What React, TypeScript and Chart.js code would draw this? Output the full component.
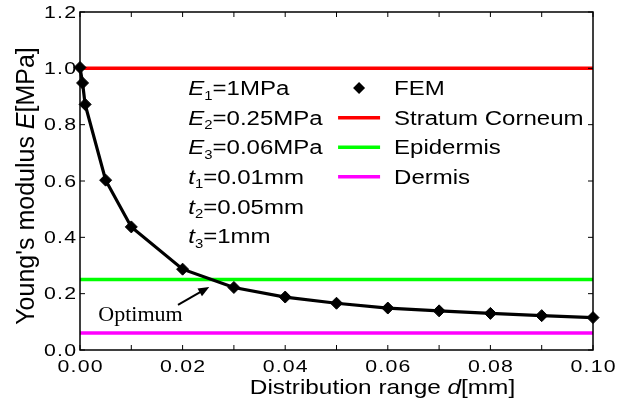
import React, { useEffect, useRef } from "react";
import { Chart, registerables } from "chart.js";
Chart.register(...registerables);

// ---- data ----
const femX = [0, 0.0005, 0.001, 0.005, 0.01, 0.02, 0.03, 0.04, 0.05, 0.06, 0.07, 0.08, 0.09, 0.1];
const femY = [1.003, 0.948, 0.872, 0.603, 0.437, 0.287, 0.222, 0.188, 0.166, 0.149, 0.139, 0.13, 0.122, 0.115];
const layerNames = ["Stratum Corneum", "Epidermis", "Dermis"];
const layerModulus = [1.0, 0.25, 0.06];
const layerColors = ["#ff0000", "#00ff00", "#ff00ff"];
const xRange = [0, 0.1];
const yRange = [0, 1.2];
const xTickValues = [0, 0.01, 0.02, 0.03, 0.04, 0.05, 0.06, 0.07, 0.08, 0.09, 0.1];
const xTickLabels = ["0.00", "", "0.02", "", "0.04", "", "0.06", "", "0.08", "", "0.10"];
const yTickValues = [0, 0.2, 0.4, 0.6, 0.8, 1.0, 1.2];
const yTickLabels = ["0.0", "0.2", "0.4", "0.6", "0.8", "1.0", "1.2"];
const paramLines = [
  [["E", "i"], ["1", "s"], ["=1MPa", ""]],
  [["E", "i"], ["2", "s"], ["=0.25MPa", ""]],
  [["E", "i"], ["3", "s"], ["=0.06MPa", ""]],
  [["t", "i"], ["1", "s"], ["=0.01mm", ""]],
  [["t", "i"], ["2", "s"], ["=0.05mm", ""]],
  [["t", "i"], ["3", "s"], ["=1mm", ""]],
];
const femLabel = "FEM";
const optimumLabel = "Optimum";

type Seg = [string, string];
const SANS = "Arial, 'Liberation Sans', sans-serif";
const SERIF = "'Times New Roman', 'Liberation Serif', serif";

function drawRich(
  ctx: CanvasRenderingContext2D,
  segs: Seg[],
  x: number,
  yc: number,
  size: number,
  family: string,
  sx: number,
  align: "left" | "center" | "right",
  spacing = 0
) {
  const fontFor = (s: Seg) =>
    `${s[1] === "i" ? "italic " : ""}${s[1] === "s" ? size * 0.62 : size}px ${family}`;
  ctx.save();
  (ctx as any).letterSpacing = `${spacing}px`;
  let w = 0;
  for (const s of segs) {
    ctx.font = fontFor(s);
    w += ctx.measureText(s[0]).width;
  }
  if (spacing) w -= spacing;
  ctx.translate(x, yc + size * 0.358);
  ctx.scale(sx, 1);
  let cx = align === "left" ? 0 : align === "center" ? -w / 2 : -w;
  ctx.textAlign = "left";
  ctx.textBaseline = "alphabetic";
  ctx.fillStyle = "#000";
  for (const s of segs) {
    ctx.font = fontFor(s);
    ctx.fillText(s[0], cx, s[1] === "s" ? size * 0.22 : 0);
    cx += ctx.measureText(s[0]).width;
  }
  ctx.restore();
}

function diamond(ctx: CanvasRenderingContext2D, x: number, y: number, r: number) {
  ctx.beginPath();
  ctx.moveTo(x, y - r);
  ctx.lineTo(x + r, y);
  ctx.lineTo(x, y + r);
  ctx.lineTo(x - r, y);
  ctx.closePath();
  ctx.fill();
}

const decor = {
  id: "decor",
  afterDraw(chart: any) {
    const ctx: CanvasRenderingContext2D = chart.ctx;
    const { left, right, top, bottom } = chart.chartArea;
    const xs = chart.scales.x;
    const ys = chart.scales.y;
    ctx.save();
    // frame
    ctx.strokeStyle = "#000";
    ctx.lineWidth = 1.5;
    ctx.strokeRect(left, top, right - left, bottom - top);
    // inward ticks
    ctx.lineWidth = 1;
    ctx.beginPath();
    xTickValues.forEach((v) => {
      const px = xs.getPixelForValue(v);
      ctx.moveTo(px, bottom);
      ctx.lineTo(px, bottom - 5);
      ctx.moveTo(px, top);
      ctx.lineTo(px, top + 5);
    });
    yTickValues.forEach((v) => {
      const py = ys.getPixelForValue(v);
      ctx.moveTo(left, py);
      ctx.lineTo(left + 5, py);
      ctx.moveTo(right, py);
      ctx.lineTo(right - 5, py);
    });
    ctx.stroke();
    // tick labels
    xTickValues.forEach((v, i) => {
      if (!xTickLabels[i]) return;
      drawRich(ctx, [[xTickLabels[i], ""]], xs.getPixelForValue(v), bottom + 16, 16, SANS, 1.33, "center", 0.9);
    });
    yTickValues.forEach((v, i) => {
      drawRich(ctx, [[yTickLabels[i], ""]], left - 4, ys.getPixelForValue(v), 16, SANS, 1.33, "right", 0.9);
    });
    // axis titles
    drawRich(
      ctx,
      [["Distribution range ", ""], ["d", "i"], ["[mm]", ""]],
      (left + right) / 2 + 46,
      bottom + 36,
      21,
      SANS,
      1.16,
      "center"
    );
    ctx.save();
    ctx.translate(25, (top + bottom) / 2 + 5);
    ctx.rotate(-Math.PI / 2);
    drawRich(ctx, [["Young's modulus ", ""], ["E", "i"], ["[MPa]", ""]], 0, 0, 25, SANS, 1, "center");
    ctx.restore();

    // parameter block
    const px0 = xs.getPixelForValue(0.0211);
    const py0 = ys.getPixelForValue(0.93);
    const step = 29.6;
    paramLines.forEach((segs, i) => {
      drawRich(ctx, segs as Seg[], px0, py0 + i * step, 20, SANS, 1.2, "left");
    });
    // legend
    const lx = xs.getPixelForValue(0.0544);
    const tx = lx + 35;
    ctx.fillStyle = "#000";
    diamond(ctx, lx, py0, 6);
    drawRich(ctx, [[femLabel, ""]], tx, py0, 20, SANS, 1.2, "left");
    layerNames.forEach((n, i) => {
      const y = py0 + (i + 1) * step;
      ctx.strokeStyle = layerColors[i];
      ctx.lineWidth = 3.5;
      ctx.beginPath();
      ctx.moveTo(lx - 21, y);
      ctx.lineTo(lx + 21, y);
      ctx.stroke();
      drawRich(ctx, [[n, ""]], tx, y, 20, SANS, 1.2, "left");
    });

    // optimum annotation
    const ax0 = xs.getPixelForValue(0.0191);
    const ay0 = ys.getPixelForValue(0.16);
    const ax1 = xs.getPixelForValue(0.0252);
    const ay1 = ys.getPixelForValue(0.224);
    const ang = Math.atan2(ay1 - ay0, ax1 - ax0);
    ctx.strokeStyle = "#000";
    ctx.lineWidth = 2;
    ctx.beginPath();
    ctx.moveTo(ax0, ay0);
    ctx.lineTo(ax1 - 6 * Math.cos(ang), ay1 - 6 * Math.sin(ang));
    ctx.stroke();
    ctx.fillStyle = "#000";
    ctx.beginPath();
    ctx.moveTo(ax1, ay1);
    ctx.lineTo(ax1 - 11 * Math.cos(ang) + 4.5 * Math.sin(ang), ay1 - 11 * Math.sin(ang) - 4.5 * Math.cos(ang));
    ctx.lineTo(ax1 - 11 * Math.cos(ang) - 4.5 * Math.sin(ang), ay1 - 11 * Math.sin(ang) + 4.5 * Math.cos(ang));
    ctx.closePath();
    ctx.fill();
    drawRich(
      ctx,
      [[optimumLabel, ""]],
      xs.getPixelForValue(0.0118),
      ys.getPixelForValue(0.131),
      22,
      SERIF,
      1,
      "center"
    );
    ctx.restore();
  },
};

export default function App() {
  const ref = useRef<HTMLCanvasElement | null>(null);
  useEffect(() => {
    if (!ref.current) return;
    const layerSets = layerNames.map((n, i) => ({
      label: n,
      data: xRange.map((x) => ({ x, y: layerModulus[i] })),
      borderColor: layerColors[i],
      borderWidth: 3.5,
      pointRadius: 0,
      fill: false,
      order: 2,
    }));
    const chart = new Chart(ref.current, {
      type: "line",
      data: {
        datasets: [
          {
            label: femLabel,
            data: femX.map((x, i) => ({ x, y: femY[i] })),
            borderColor: "#000",
            backgroundColor: "#000",
            borderWidth: 3.2,
            pointStyle: "rectRot",
            pointRadius: 6,
            pointBorderWidth: 1,
            pointBackgroundColor: "#000",
            tension: 0,
            clip: false as any,
            order: 1,
          },
          ...layerSets,
        ],
      },
      options: {
        animation: false,
        responsive: true,
        maintainAspectRatio: false,
        layout: { padding: { top: 12, right: 31, left: 0, bottom: 0 } },
        plugins: { legend: { display: false }, tooltip: { enabled: false } },
        scales: {
          x: {
            type: "linear",
            min: xRange[0],
            max: xRange[1],
            ticks: { display: false },
            grid: { display: false, drawTicks: false },
            border: { display: false },
            afterFit: (s: any) => {
              s.height = 55;
            },
          },
          y: {
            type: "linear",
            min: yRange[0],
            max: yRange[1],
            ticks: { display: false },
            grid: { display: false, drawTicks: false },
            border: { display: false },
            afterFit: (s: any) => {
              s.width = 80;
            },
          },
        },
      },
      plugins: [decor],
    });
    return () => chart.destroy();
  }, []);
  return (
    <div style={{ position: "absolute", left: 0, top: 0, width: 624, height: 405, background: "#fff" }}>
      <canvas ref={ref} />
    </div>
  );
}
